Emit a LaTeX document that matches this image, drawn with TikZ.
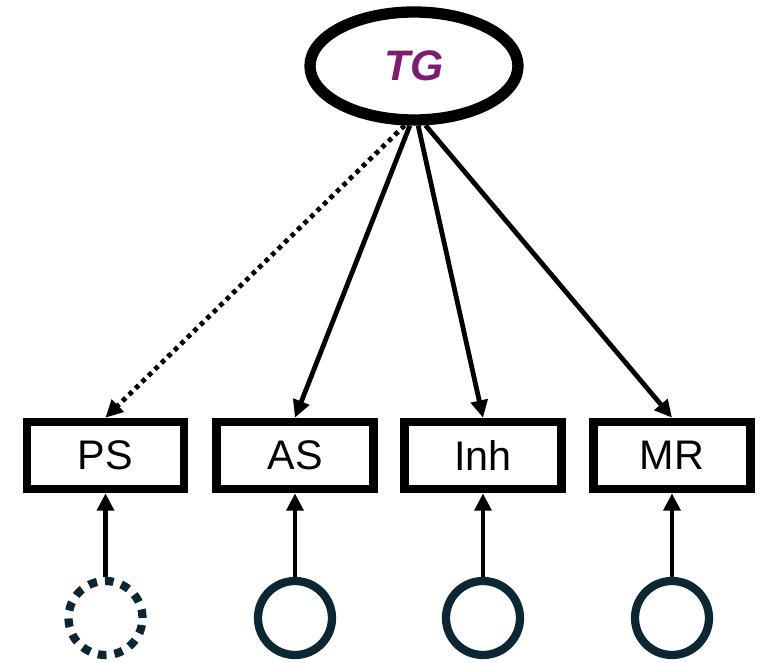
\documentclass[tikz,border=0pt]{standalone}
\usepackage{fontspec}
\setmainfont{Liberation Sans}
\usetikzlibrary{shapes.geometric,arrows.meta}
\definecolor{tgpurple}{RGB}{122,30,112}
\definecolor{errnavy}{RGB}{12,38,52}
\tikzset{
  >={Triangle[length=13pt,width=12.5pt]},
}
\tikzstyle{latent}=[ellipse,draw,line width=8.5pt,minimum width=156pt,minimum height=81pt]
\tikzstyle{item}=[rectangle,draw,line width=6.5pt,minimum width=117.75pt,minimum height=50.25pt,font=\fontsize{31}{36}\selectfont]
\tikzstyle{resid}=[circle,draw=errnavy,line width=6.2pt,minimum size=55.5pt,inner sep=0pt]
\tikzstyle{link}=[line width=3.6pt,->]

\begin{document}
\begin{tikzpicture}[x=0.75pt,y=-0.75pt]
    \useasboundingbox (0,0) rectangle (769,663);
    \node[latent,font=\fontsize{32}{36}\selectfont\bfseries\itshape,text=tgpurple] (tg) at (414,66) {TG};
    % indicators
    \node[item] (ps) at (105.5,455.5) {PS};
    \node[item] (as) at (295,455.5) {AS};
    \node[item] (inh) at (483,455.5) {Inh};
    \node[item] (mr) at (672,455.5) {MR};
    % residuals
    \node[resid,dash pattern=on 6.5pt off 6pt] (eps) at (105.5,618) {};
    \node[resid] (eas) at (295,618) {};
    \node[resid] (einh) at (483,618) {};
    \node[resid] (emr) at (672,618) {};
    % loadings
    \draw[link,dash pattern=on 3.4pt off 3.4pt] (tg.261) -- (ps.north);
    \draw[link] (tg.266) -- (as.north);
    \draw[link] (tg.274) -- (inh.north);
    \draw[link] (tg.281) -- (mr.north);
    \draw[link] (eps) -- (ps);
    \draw[link] (eas) -- (as);
    \draw[link] (einh) -- (inh);
    \draw[link] (emr) -- (mr);
\end{tikzpicture}
\end{document}
